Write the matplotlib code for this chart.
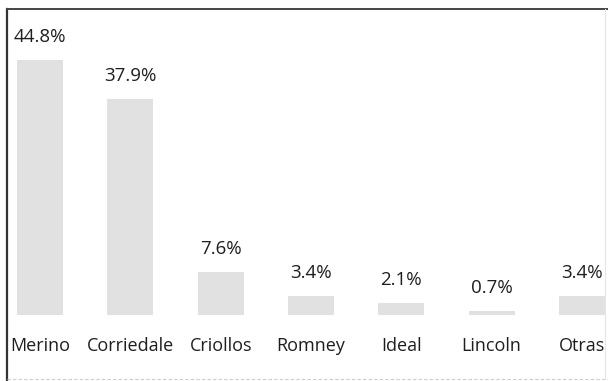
import matplotlib
matplotlib.use("Agg")
import matplotlib.pyplot as plt
from matplotlib.lines import Line2D

categories = ["Merino", "Corriedale", "Criollos", "Romney", "Ideal", "Lincoln", "Otras"]
values = [44.8, 37.9, 7.6, 3.4, 2.1, 0.7, 3.4]
value_labels = ["44.8%", "37.9%", "7.6%", "3.4%", "2.1%", "0.7%", "3.4%"]

W, H = 608, 381
fig = plt.figure(figsize=(W / 100, H / 100), dpi=100)
fig.patch.set_facecolor("white")

# axes spanning the framed area (pixels: left 7, right 606, top 9, bottom 379)
ax = fig.add_axes([7 / W, 2 / H, 599 / W, 370 / H])
ax.set_facecolor("white")

x = list(range(len(categories)))
ax.bar(x, values, width=0.51, color="#e1e1e1", edgecolor="none")

px_per_unit = 5.69
ax.set_xlim(-0.365, 6.266)
ax.set_ylim(-(379 - 315) / px_per_unit, (315 - 9) / px_per_unit)

font = "Open Sans"
txt_color = "#1e1e1e"
for xi, v, lab in zip(x, values, value_labels):
    ax.text(xi, v + 23 / px_per_unit, lab, ha="center", va="center",
            fontsize=13.5, color=txt_color, family=font)
for xi, cat in zip(x, categories):
    ax.text(xi, -31 / px_per_unit, cat, ha="center", va="center",
            fontsize=13, color=txt_color, family=font)

ax.set_xticks([])
ax.set_yticks([])
for s in ax.spines.values():
    s.set_visible(False)

# frame lines like the scanned figure
fig.add_artist(Line2D([7 / W, 7 / W], [0, 1 - 9 / H], color="#333333", lw=1.6,
                      transform=fig.transFigure))
fig.add_artist(Line2D([7 / W, 1], [1 - 9 / H, 1 - 9 / H], color="#444444", lw=1.4,
                      transform=fig.transFigure))
fig.add_artist(Line2D([7 / W, 1], [1 - 379 / H, 1 - 379 / H], color="#cccccc", lw=0.8,
                      ls=(0, (3, 2)), transform=fig.transFigure))
fig.add_artist(Line2D([605 / W, 605 / W], [1 - 379 / H, 1 - 9 / H], color="#e6e6e6",
                      lw=0.8, transform=fig.transFigure))

fig.savefig("out.png", dpi=100)
